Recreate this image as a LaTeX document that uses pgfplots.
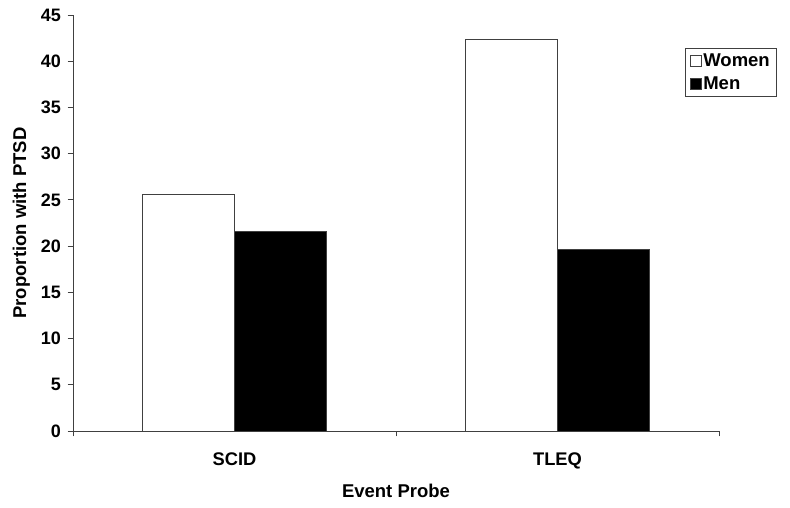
\documentclass[border=0pt]{standalone}
\usepackage{pgfplots}
\pgfplotsset{compat=1.18}
\usepackage{fontspec}
\setmainfont{Liberation Sans}
\begin{document}
\begin{tikzpicture}[x=1pt,y=1pt]
\path[use as bounding box] (0,0) rectangle (790,508);
\begin{axis}[
  at={(73pt,77pt)}, anchor=south west,
  scale only axis, width=646pt, height=416pt,
  ybar=0pt, bar width=92.3pt,
  xmin=-0.5, xmax=1.5, ymin=0, ymax=45,
  axis lines=left, axis line style={-, black!75, line width=0.9pt},
  xtick={-0.5,0.5,1.5}, xticklabels={},
  extra x ticks={0,1}, extra x tick labels={SCID,TLEQ},
  extra x tick style={major tick length=0pt},
  ytick={0,5,...,45},
  tick align=outside, major tick length=5.5pt,
  tick style={black!75, line width=0.9pt},
  yticklabel style={font=\fontsize{18}{18}\selectfont\bfseries, xshift=-3pt},
  xticklabel style={font=\fontsize{18.3}{18.3}\selectfont\bfseries, anchor=base, yshift=-34.5pt},
  /pgf/number format/assume math mode=true,
  xlabel={Event Probe}, ylabel={Proportion with PTSD},
  xlabel style={font=\fontsize{18.5}{18.5}\selectfont\bfseries, at={(axis description cs:0.5,-0.144)}, anchor=center},
  ylabel style={font=\fontsize{18.5}{18.5}\selectfont\bfseries, at={(axis description cs:-0.08,0.5)}, anchor=center, rotate=0},
  legend cell align=left,
  legend style={at={(axis description cs:0.947,0.921)}, anchor=north west,
    draw=black!75, line width=0.9pt, font=\fontsize{18.5}{18.5}\selectfont\bfseries,
    inner xsep=5pt, inner ysep=3.5pt, row sep=5pt,
    /tikz/every even column/.append style={column sep=0pt},
    nodes={inner xsep=1.5pt}},
  legend image code/.code={\draw[#1, line width=0.6pt] (0pt,-5.5pt) rectangle (11pt,5.5pt);},
  clip=false,
]
\addplot[draw=black!75, fill=white, line width=0.9pt] coordinates {(0,25.6) (1,42.4)};
\addplot[draw=black!75, fill=black, line width=0.9pt] coordinates {(0,21.6) (1,19.6)};
\legend{Women,Men}
\end{axis}
\end{tikzpicture}
\end{document}
